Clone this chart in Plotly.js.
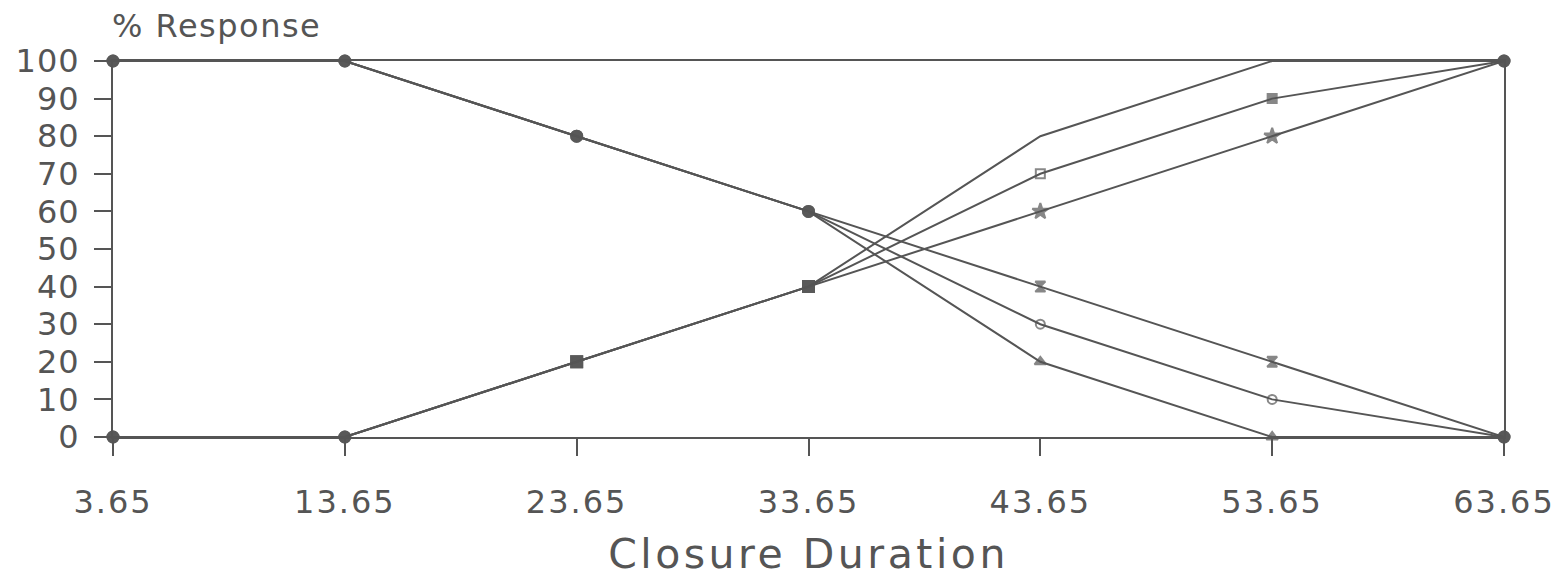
<!DOCTYPE html>
<html>
<head>
<meta charset="utf-8">
<script src="https://cdn.plot.ly/plotly-3.0.1.min.js"></script>
<style>
html,body{margin:0;padding:0;background:#fff;}
#chart{width:1565px;height:578px;}
.xtick text{letter-spacing:2px;}
.ytick text{letter-spacing:1px;}
.g-xtitle text{letter-spacing:3.5px;}
.annotation-text{letter-spacing:1.5px;}
</style>
</head>
<body>
<div id="chart"></div>
<script>
// Data
const closureDuration = [3.65, 13.65, 23.65, 33.65, 43.65, 53.65, 63.65];
const xTickLabels = ["3.65", "13.65", "23.65", "33.65", "43.65", "53.65", "63.65"];
const yTickValues = [0, 10, 20, 30, 40, 50, 60, 70, 80, 90, 100];

const seriesA = [100, 100, 80, 60, 40, 20, 0];
const seriesB = [100, 100, 80, 60, 30, 10, 0];
const seriesC = [100, 100, 80, 60, 20, 0, 0];
const seriesD = [0, 0, 20, 40, 80, 100, 100];
const seriesE = [0, 0, 20, 40, 70, 90, 100];
const seriesF = [0, 0, 20, 40, 60, 80, 100];

const ink = '#555555';
const font = 'DejaVu Sans, Liberation Sans, sans-serif';

function makeTrace(y, earlySym, sym43, sym53, sz) {
  const symbols = closureDuration.map((_, i) => i === 4 ? sym43 : (i === 5 ? sym53 : (i === 2 || i === 3 ? earlySym : 'circle')));
  const sizes = closureDuration.map((_, i) => (i === 4 || i === 5) ? sz : 11);
  return {
    x: closureDuration, y: y, type: 'scatter', mode: 'lines+markers',
    cliponaxis: false,
    line: {color: ink, width: 2},
    marker: {color: ink, symbol: symbols, size: sizes, line: {color: ink, width: 2}},
    hoverinfo: 'x+y', showlegend: false
  };
}

const traces = [
  makeTrace(seriesA, 'circle', 'hourglass', 'hourglass', 10),
  makeTrace(seriesB, 'circle', 'circle-open', 'circle-open', 9),
  makeTrace(seriesC, 'circle', 'triangle-up', 'triangle-up', 10),
  makeTrace(seriesD, 'square', 'line-ew', 'line-ew', 0),
  makeTrace(seriesE, 'square', 'square-open', 'square', 9),
  makeTrace(seriesF, 'square', 'star', 'star', 12)
];

const layout = {
  width: 1565, height: 578,
  paper_bgcolor: '#ffffff', plot_bgcolor: '#ffffff',
  margin: {l: 113, r: 61, t: 61, b: 141},
  xaxis: {
    range: [3.65, 63.65], tickvals: closureDuration, ticktext: xTickLabels,
    ticks: 'outside', ticklen: 17, tickwidth: 2, tickcolor: ink,
    showline: true, linecolor: ink, linewidth: 2, mirror: true,
    showgrid: false, zeroline: false,
    ticklabelstandoff: 19,
    tickfont: {family: font, size: 32, color: ink},
    title: {text: 'Closure Duration', font: {family: font, size: 41, color: ink}, standoff: 19}
  },
  yaxis: {
    range: [0, 100], tickvals: yTickValues,
    ticks: 'outside', ticklen: 17, tickwidth: 2, tickcolor: ink,
    showline: true, linecolor: ink, linewidth: 2, mirror: true,
    showgrid: false, zeroline: false,
    ticklabelstandoff: 8,
    tickfont: {family: font, size: 32, color: ink}
  },
  annotations: [{
    text: '% Response', xref: 'paper', yref: 'paper', x: 0, y: 1,
    xanchor: 'left', yanchor: 'bottom', xshift: -3, yshift: 14, showarrow: false,
    font: {family: font, size: 32, color: ink}
  }]
};

Plotly.newPlot('chart', traces, layout, {staticPlot: true, displayModeBar: false});
</script>
</body>
</html>
